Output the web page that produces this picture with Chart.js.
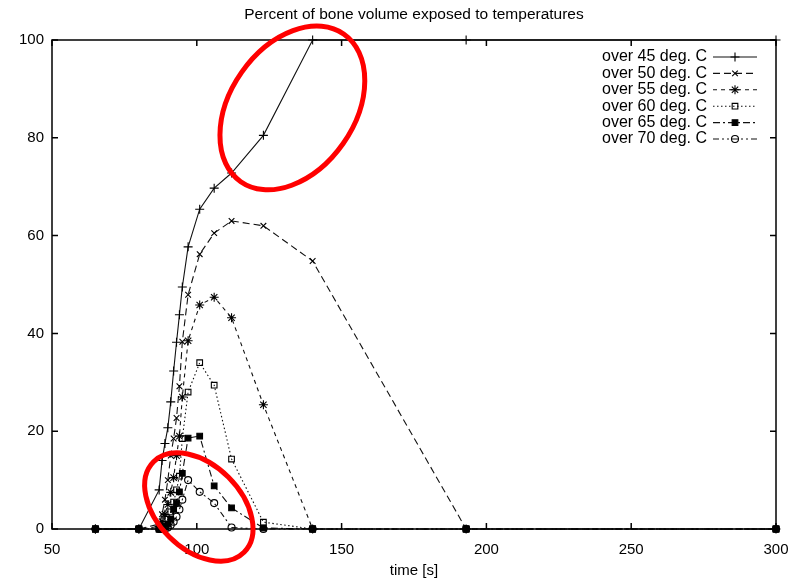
<!DOCTYPE html>
<html>
<head>
<meta charset="utf-8">
<script src="https://cdn.jsdelivr.net/npm/chart.js@4/dist/chart.umd.min.js"></script>
<style>
html, body { margin: 0; padding: 0; background: #fff; }
</style>
</head>
<body>
<canvas id="boneChart" width="798" height="580"></canvas>
<script>
// time steps [s] shared by all series
const times = [65, 80, 87, 88, 89, 90, 91, 92, 93, 94, 95, 97, 101, 106, 112, 123, 140, 193, 300];

// percent of bone volume above each temperature
const over45 = [0, 0, 8, 14, 17.5, 20.7, 26, 32.3, 38.2, 43.8, 49.5, 57.7, 65.4, 69.7, 72.8, 80.5, 100, 100, 100];
const over50 = [0, 0, 1, 3, 6, 10, 15, 18.5, 22.7, 29.2, 38.3, 47.9, 56.2, 60.5, 63, 62, 54.8, 0, 0];
const over55 = [0, 0, 0.5, 1.5, 3, 5, 7.5, 10.5, 15, 19, 27, 38.5, 45.8, 47.4, 43.2, 25.4, 0, 0, 0];
const over60 = [0, 0, 0, 0.5, 1, 2, 3.5, 5.5, 8, 10.8, 18.5, 28, 34, 29.4, 14.3, 1.4, 0, 0, 0];
const over65 = [0, 0, 0, 0, 0.5, 1, 2, 4, 5.3, 7.6, 11.4, 18.6, 19, 8.8, 4.3, 0.2, 0, 0, 0];
const over70 = [0, 0, 0, 0, 0, 0.3, 0.8, 1.5, 2.5, 4, 6, 10, 7.6, 5.3, 0.3, 0, 0, 0, 0];

const seriesNames = ['over 45 deg. C', 'over 50 deg. C', 'over 55 deg. C', 'over 60 deg. C', 'over 65 deg. C', 'over 70 deg. C'];
const seriesValues = [over45, over50, over55, over60, over65, over70];

const xTicks = [50, 100, 150, 200, 250, 300];
const yTicks = [0, 20, 40, 60, 80, 100];

const chartTitle = 'Percent of bone volume exposed to temperatures';

// red hand-drawn highlight rings, centred on data coordinates
const rings = [
    { x: 133, y: 86.1, rx: 90, ry: 62, angle: -55 },
    { x: 100.7, y: 4.5, rx: 64, ry: 42, angle: 45 }
];

const lineDashes = [[], [7, 4], [4, 4], [1.5, 2.5], [7, 3, 2, 3], [6, 3, 2, 3, 2, 3]];
const markers = ['cross', 'crossRot', 'star', 'rect', 'rect', 'circle'];
const markerFills = ['#000', '#000', '#000', 'rgba(0,0,0,0)', '#000', 'rgba(0,0,0,0)'];
const markerSizes = [4.5, 4, 4.5, 4, 4, 3.5];

const FONT = 'Liberation Sans, Arial, sans-serif';

const datasets = seriesValues.map((vals, i) => ({
    label: seriesNames[i],
    data: times.map((t, k) => ({ x: t, y: vals[k] })),
    borderColor: '#111',
    borderWidth: 1.1,
    borderDash: lineDashes[i],
    pointStyle: markers[i],
    pointRadius: markerSizes[i],
    pointBorderWidth: 1.1,
    pointBorderColor: '#000',
    pointBackgroundColor: markerFills[i],
    tension: 0,
    fill: false,
    clip: 8,
    order: 5 - i
}));

// gnuplot style frame with inward ticks, title centred over the plot
const framePlugin = {
    id: 'frame',
    afterDatasetsDraw(chart) {
        const ctx = chart.ctx;
        const a = chart.chartArea;
        const xs = chart.scales.x, ys = chart.scales.y;
        ctx.save();
        ctx.strokeStyle = '#000';
        ctx.lineWidth = 1.5;
        ctx.strokeRect(a.left, a.top, a.right - a.left, a.bottom - a.top);
        ctx.beginPath();
        xTicks.forEach(v => {
            const px = xs.getPixelForValue(v);
            ctx.moveTo(px, a.bottom); ctx.lineTo(px, a.bottom - 6);
            ctx.moveTo(px, a.top); ctx.lineTo(px, a.top + 6);
        });
        yTicks.forEach(v => {
            const py = ys.getPixelForValue(v);
            ctx.moveTo(a.left, py); ctx.lineTo(a.left + 6, py);
            ctx.moveTo(a.right, py); ctx.lineTo(a.right - 6, py);
        });
        ctx.stroke();
        ctx.fillStyle = '#000';
        ctx.font = '15.5px ' + FONT;
        ctx.textAlign = 'center';
        ctx.textBaseline = 'middle';
        ctx.fillText(chartTitle, (a.left + a.right) / 2, 15);
        ctx.restore();
    }
};

// key in the top right corner, text right-aligned then a line sample
const keyPlugin = {
    id: 'key',
    afterDatasetsDraw(chart) {
        const ctx = chart.ctx;
        const a = chart.chartArea;
        const textRight = a.right - 69;
        const lineL = a.right - 63, lineR = a.right - 19;
        ctx.save();
        ctx.font = '16px ' + FONT;
        ctx.textAlign = 'right';
        ctx.textBaseline = 'middle';
        chart.data.datasets.forEach((ds, i) => {
            const y = a.top + 17 + i * 16.4;
            ctx.fillStyle = '#000';
            ctx.fillText(ds.label, textRight, y);
            ctx.strokeStyle = '#111';
            ctx.lineWidth = 1.1;
            ctx.setLineDash(ds.borderDash);
            ctx.beginPath();
            ctx.moveTo(lineL, y); ctx.lineTo(lineR, y);
            ctx.stroke();
            ctx.setLineDash([]);
            ctx.fillStyle = ds.pointBackgroundColor;
            ctx.strokeStyle = '#000';
            ctx.lineWidth = 1.1;
            Chart.helpers.drawPoint(ctx, { pointStyle: ds.pointStyle, radius: ds.pointRadius, borderWidth: 1.1 }, (lineL + lineR) / 2, y);
        });
        ctx.restore();
    }
};

const ringPlugin = {
    id: 'rings',
    afterDraw(chart) {
        const ctx = chart.ctx;
        const xs = chart.scales.x, ys = chart.scales.y;
        ctx.save();
        ctx.strokeStyle = '#f00';
        ctx.lineWidth = 5;
        rings.forEach(r => {
            ctx.beginPath();
            ctx.ellipse(xs.getPixelForValue(r.x), ys.getPixelForValue(r.y), r.rx, r.ry, r.angle * Math.PI / 180, 0, Math.PI * 2);
            ctx.stroke();
        });
        ctx.restore();
    }
};

new Chart(document.getElementById('boneChart'), {
    type: 'line',
    data: { datasets: datasets },
    options: {
        responsive: false,
        animation: false,
        layout: { padding: { left: 0, right: 22, top: 40, bottom: 0 } },
        plugins: {
            legend: { display: false },
            tooltip: { enabled: false },
            title: { display: false }
        },
        scales: {
            x: {
                type: 'linear',
                min: 50, max: 300,
                afterBuildTicks: s => { s.ticks = xTicks.map(v => ({ value: v })); },
                afterFit: s => { s.height = 51; s.paddingLeft = 0; s.paddingRight = 0; },
                grid: { display: false, drawTicks: false },
                border: { display: false },
                ticks: { color: '#000', padding: 12, maxRotation: 0, font: { family: FONT, size: 15 } },
                title: { display: true, text: 'time [s]', color: '#000', padding: { top: 0, bottom: 0 }, font: { family: FONT, size: 15 } }
            },
            y: {
                min: 0, max: 100,
                afterBuildTicks: s => { s.ticks = yTicks.map(v => ({ value: v })); },
                afterFit: s => { s.width = 52; s.paddingTop = 0; s.paddingBottom = 0; },
                grid: { display: false, drawTicks: false },
                border: { display: false },
                ticks: { color: '#000', padding: 8, font: { family: FONT, size: 15 } }
            }
        }
    },
    plugins: [framePlugin, keyPlugin, ringPlugin]
});
</script>
</body>
</html>
